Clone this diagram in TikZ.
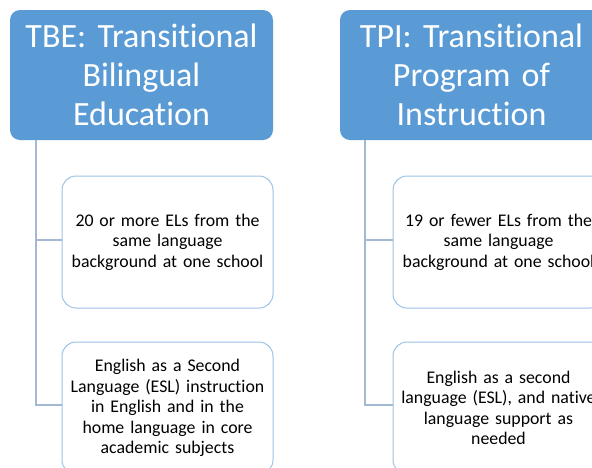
\documentclass[tikz,border=0pt]{standalone}
\usepackage{fontspec}
\setmainfont{Carlito}[Ligatures=NoCommon]
\usepackage{tikz}
\definecolor{headblue}{HTML}{5B9BD5}
\definecolor{boxline}{HTML}{9DC3E6}
\definecolor{linkgray}{HTML}{A3B9D3}
\tikzset{
	head/.style={draw=none, fill=headblue, rounded corners=10pt, text=white,
		minimum width=263pt, minimum height=130pt, text width=255pt, align=center,
		font=\fontsize{34}{39}\selectfont, inner sep=0pt},
	leaf/.style={draw=boxline, line width=1pt, fill=white, rounded corners=14pt,
		minimum width=211pt, minimum height=132pt, text width=206pt, align=center,
		font=\fontsize{17.8}{20.5}\selectfont, inner sep=0pt},
	link/.style={draw=linkgray, line width=1.3pt}
}

\begin{document}
\begin{tikzpicture}[x=1pt, y=-1pt]
		%%%%% START %%%%%
		\useasboundingbox (0, 0) rectangle (592, 467);
		\clip (0, 0) rectangle (592, 467);
		\fill[white] (0, 0) rectangle (592, 467);
		
		\node[head] (tbe) at (141.5, 75) {TBE: Transitional\\Bilingual\\Education};
		\node[head] (tpi) at (471.5, 75) {TPI: Transitional\\Program of\\Instruction};
		
		\coordinate (tbe-root) at (36, 140);
		\coordinate (tpi-root) at (365, 140);
		
		\draw[link] (tbe-root) |- (62, 240);
		\draw[link] (tbe-root) |- (62, 405);
		\draw[link] (tpi-root) |- (393, 240);
		\draw[link] (tpi-root) |- (393, 405);
		
		\node[leaf] (tbe-a) at (167.5, 242) {20 or more ELs from the\\same language\\background at one school};
		\node[leaf] (tbe-b) at (167.5, 408) {English as a Second\\Language (ESL) instruction\\in English and in the\\home language in core\\academic subjects};
		
		\node[leaf] (tpi-a) at (498.5, 242) {19 or fewer ELs from the\\same language\\background at one school};
		\node[leaf] (tpi-b) at (498.5, 408) {English as a second\\language (ESL), and native\\language support as\\needed};
		%%%%% END %%%%%
\end{tikzpicture}
\end{document}
